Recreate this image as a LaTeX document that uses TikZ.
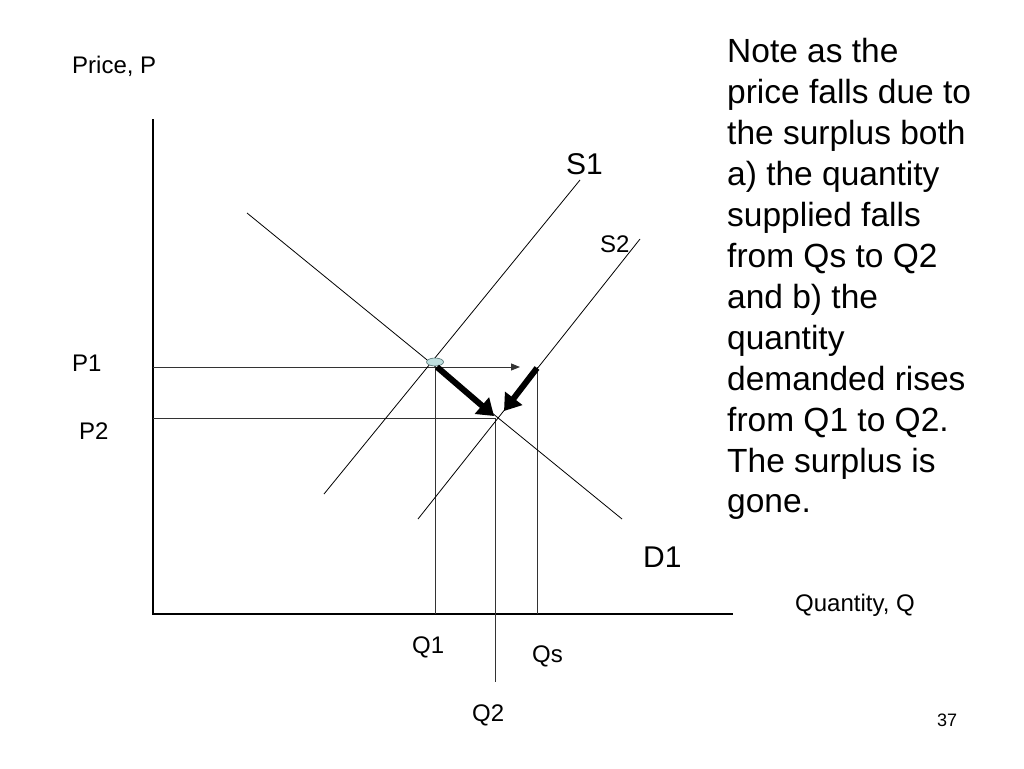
\documentclass[tikz,border=0pt]{standalone}
\usepackage{fontspec}
\setmainfont{Liberation Sans}
\usetikzlibrary{arrows.meta,shapes.geometric}
\definecolor{eqfill}{HTML}{BFDFDF}
\definecolor{eqline}{HTML}{4F6F6F}
\definecolor{guide}{HTML}{333333}
\begin{document}
\begin{tikzpicture}[x=1pt,y=-1pt,
  axis/.style={line width=1.2pt,black},
  curve/.style={line width=0.8pt,black},
  guideline/.style={line width=0.9pt,guide},
  bigarrow/.style={line width=6pt,black,-{Triangle[width=21pt,length=16pt]}},
  lbl/.style={inner sep=0pt,anchor=base west,font=\fontsize{24}{28}\selectfont},
  biglbl/.style={inner sep=0pt,anchor=base west,font=\fontsize{30}{36}\selectfont},
  note/.style={inner sep=0pt,anchor=base west,font=\fontsize{33.5}{40}\selectfont}]
\useasboundingbox[fill=white] (0,0) rectangle (1024,768);
% coordinates
\coordinate (ytop) at (153,119);
\coordinate (O) at (153,614);
\coordinate (xend) at (733,614);
\coordinate (d1a) at (247,213);
\coordinate (d1b) at (622,519);
\coordinate (s1a) at (324,494);
\coordinate (s1b) at (580,180);
\coordinate (s2a) at (418,519);
\coordinate (s2b) at (640,239);
\coordinate (p1l) at (153,367);
\coordinate (p1r) at (520,367);
\coordinate (p2l) at (153,418);
\coordinate (p2r) at (495,418);
\coordinate (q1t) at (435,367);
\coordinate (q1b) at (435,614);
\coordinate (q2t) at (495,418);
\coordinate (q2b) at (495,682);
\coordinate (qst) at (537,367);
\coordinate (qsb) at (537,614);
\coordinate (a1s) at (437,367);
\coordinate (a1e) at (494,416);
\coordinate (a2s) at (537,368);
\coordinate (a2e) at (504,411);
% axes
\draw[axis] (ytop) -- (O) -- (xend);
% guide lines
\draw[guideline] (p1l) -- (q1t);
\draw[guideline,-{Triangle[width=7pt,length=9pt]}] (q1t) -- (p1r);
\draw[guideline] (p2l) -- (p2r);
\draw[guideline] (q1t) -- (q1b);
\draw[guideline] (q2t) -- (q2b);
\draw[guideline] (qst) -- (qsb);
% curves
\draw[curve] (d1a) -- (d1b);
\draw[curve] (s1a) -- (s1b);
\draw[curve] (s2a) -- (s2b);
% equilibrium marker
\node[ellipse,draw=eqline,fill=eqfill,line width=0.6pt,minimum width=17pt,minimum height=8pt,inner sep=0pt] (eq) at (435,362) {};
% thick arrows
\draw[bigarrow] (a1s) -- (a1e);
\draw[bigarrow] (a2s) -- (a2e);
% labels
\node[lbl] (price) at (72,73) {Price, P};
\node[lbl] (p1) at (72,371) {P1};
\node[lbl] (p2) at (79,439) {P2};
\node[biglbl] (s1) at (566,174) {S1};
\node[lbl] (s2) at (600,252) {S2};
\node[biglbl] (d1) at (643,567) {D1};
\node[lbl] (qty) at (795,611) {Quantity, Q};
\node[lbl] (q1) at (412,653) {Q1};
\node[lbl] (qs) at (532,662) {Qs};
\node[lbl] (q2) at (472,721) {Q2};
\node[inner sep=0pt,anchor=base west,font=\fontsize{18}{21}\selectfont] (pg) at (937,726) {37};
% note
\foreach \t [count=\i] in {Note as the,price falls due to,the surplus both,a) the quantity,supplied falls,from Qs to Q2,and b) the,quantity,demanded rises,from Q1 to Q2.,The surplus is,gone.}
  \node[note] (n\i) at (727,{63+40.9*(\i-1)}) {\t};
\end{tikzpicture}
\end{document}
